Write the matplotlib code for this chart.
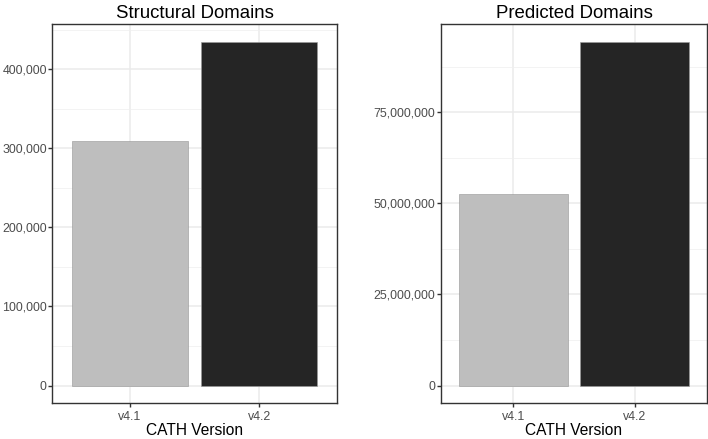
import numpy as np
import matplotlib; matplotlib.use("Agg")
import matplotlib.pyplot as plt
from matplotlib.ticker import FuncFormatter, MultipleLocator

plt.rcParams["font.family"] = ["Liberation Sans", "DejaVu Sans"]

versions = ["v4.1", "v4.2"]
structural = [309000, 435000]
predicted = [52700000, 94500000]
bar_colors = ["#BEBEBE", "#252525"]

fig = plt.figure(figsize=(708/72, 439/72), dpi=72)
ax1 = fig.add_axes([52.3/708, 1-402.7/439, (336.7-52.3)/708, (402.7-24.3)/439])
ax2 = fig.add_axes([440.7/708, 1-402.7/439, (707.3-440.7)/708, (402.7-24.3)/439])

def style(ax, vals, title, major, minor):
    x = np.arange(1, len(vals)+1)
    ax.bar(x, vals, width=0.9, color=bar_colors, edgecolor="#9a9a9a", linewidth=0.6, zorder=3)
    ax.set_xlim(0.4, 2.6)
    top = max(vals)
    ax.set_ylim(-0.05*top, 1.05*top)
    ax.yaxis.set_major_locator(MultipleLocator(major))
    ax.yaxis.set_minor_locator(MultipleLocator(minor))
    ax.yaxis.set_major_formatter(FuncFormatter(lambda v, p: f"{int(round(v)):,}"))
    ax.set_xticks(x)
    ax.set_xticklabels(versions)
    ax.grid(which="major", color="#EBEBEB", lw=1.5, zorder=0)
    ax.grid(which="minor", axis="y", color="#F0F0F0", lw=0.8, zorder=0)
    ax.tick_params(which="major", length=4, width=1.4, color="#333333",
                   labelsize=12.4, labelcolor="#4D4D4D")
    ax.tick_params(axis="x", pad=4)
    ax.tick_params(axis="y", pad=1.5)
    ax.tick_params(which="minor", length=0)
    for s in ax.spines.values():
        s.set_color("#333333"); s.set_linewidth(1.4)
    ax.set_title(title, fontsize=18.6, pad=6)
    ax.set_xlabel("CATH Version", fontsize=15.5, labelpad=0.5)
    ax.set_axisbelow(True)

style(ax1, structural, "Structural Domains", 100000, 50000)
style(ax2, predicted, "Predicted Domains", 25000000, 12500000)

fig.savefig("out.png", dpi=72)
